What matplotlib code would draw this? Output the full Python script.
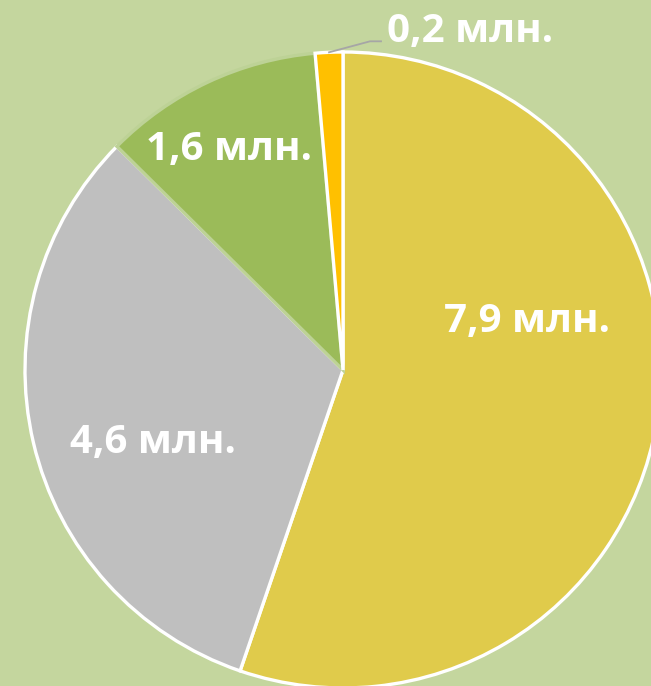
import numpy as np
import matplotlib
matplotlib.use('Agg')
import matplotlib.pyplot as plt

# data (millions)
values = [7.9, 4.6, 1.6, 0.2]
labels = ['7,9 млн.', '4,6 млн.', '1,6 млн.', '0,2 млн.']
colors = ['#e0cb4b', '#bfbfbf', '#9bbb59', '#ffc000']
edges = ['white', 'white', '#bdd296', 'white']

W, H = 651, 686
bg = '#c4d69e'
cx, cy, R = 343, H - 370, 318

fig = plt.figure(figsize=(W / 100, H / 100), dpi=100, facecolor=bg)
ax = fig.add_axes([0, 0, 1, 1])
ax.set_facecolor(bg)

wedges, _ = ax.pie(values, colors=colors, startangle=90, counterclock=False,
                   center=(cx, cy), radius=R,
                   wedgeprops=dict(linewidth=2.4))
for w, ec in zip(wedges, edges):
    w.set_edgecolor(ec)

ax.set_xlim(0, W)
ax.set_ylim(0, H)
ax.set_aspect('equal')
ax.axis('off')

# label placement (fraction of radius, angle in degrees)
label_pos = [(0.60, 14.8), (0.64, 201.0), (0.78, 117.3)]
font = dict(color='white', fontsize=29, fontweight='bold', family=['Open Sans', 'DejaVu Sans'],
            ha='center', va='center')
for lab, (f, a) in zip(labels[:3], label_pos):
    t = np.deg2rad(a)
    ax.text(cx + f * R * np.cos(t), cy + f * R * np.sin(t), lab, **font)

# small slice: outside label with leader line
w = wedges[3]
mid = np.deg2rad((w.theta1 + w.theta2) / 2)
px, py = cx + R * np.cos(mid), cy + R * np.sin(mid)
ax.plot([px, px + 41, px + 52], [py, py + 11, py + 11], color='#a6a6a6', lw=1.3)
ax.text(px + 141, py + 21, labels[3], **font)

plt.savefig('out.png', dpi=100, facecolor=bg)
